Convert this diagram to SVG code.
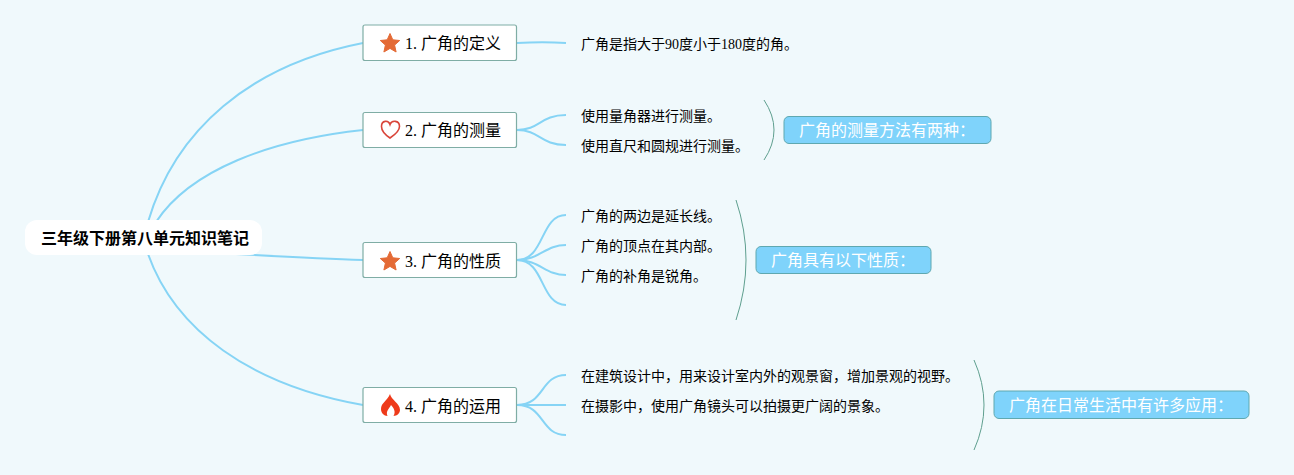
<svg xmlns="http://www.w3.org/2000/svg" width="1294" height="475" viewBox="0 0 1294 475">
<style>
text{font-family:"Liberation Serif","Noto Sans CJK SC",serif;fill:#000}
.c{fill:none;stroke:#86d4f5;stroke-width:2}
.b{fill:none;stroke:#5f9f8f;stroke-width:1}
.t{fill:#fff;stroke:#7fada5;stroke-width:1.2}
.s{fill:#7fd3fb;stroke:#5fa8b0;stroke-width:1}
.l{font-size:14px}
.m{font-size:16px}
.w{font-size:16px;fill:#fff;font-family:"Noto Sans CJK SC",sans-serif}
</style>
<defs>
<path id="star" d="M0-9.500 L2.800-3.200 9.700-2.500 4.600 2.100 6.100 9 0 5.400-6.100 9-4.600 2.100-9.700-2.500-2.800-3.200Z" fill="#e46a35" stroke="#e46a35" stroke-linejoin="round"/>
</defs>
<rect width="1294" height="475" fill="#f0f9fc"/>
<g id="connectors">
<path class="c" d="M148 222C175 130 250 65 363 43"/>
<path class="c" d="M156 222C190 170 270 140 363 130"/>
<path class="c" d="M236 254C290 257 330 259 363 260"/>
<path class="c" d="M148 254C175 330 250 385 363 405"/>
<path class="c" d="M517 43C535 42 550 42 566 43"/>
<path class="c" d="M517 130C540 130 540 115 566 115"/>
<path class="c" d="M517 130C540 130 540 145 566 145"/>
<path class="c" d="M517 260C545 260 540 215 566 215"/>
<path class="c" d="M517 260C540 260 545 245 566 245"/>
<path class="c" d="M517 260C540 260 545 275 566 275"/>
<path class="c" d="M517 260C545 260 540 305 566 305"/>
<path class="c" d="M517 405C545 405 540 375 566 375"/>
<path class="c" d="M517 405H566"/>
<path class="c" d="M517 405C545 405 540 435 566 435"/>
<path class="b" d="M764 100Q784 130 764 160"/>
<path class="b" d="M736 200Q756 260 736 320"/>
<path class="b" d="M974 360Q994 405 974 450"/>
</g>
<g id="root"><rect x="25" y="220" width="237" height="35" rx="12" fill="#fff"/><text x="41" y="244" font-size="16" font-weight="700" style="font-family:'Noto Sans CJK SC',sans-serif">三年级下册第八单元知识笔记</text></g>
<g id="n1"><rect class="t" x="363" y="25" width="153.500" height="35.500" rx="2"/><use href="#star" x="390" y="43"/><text class="m" x="405" y="49">1. 广角的定义</text></g>
<g id="n2"><rect class="t" x="363" y="112.500" width="153.500" height="35" rx="2"/><path d="M390 138C384 134 381.500 131 381.500 126.500C381.500 120 388.500 120 390 124.500C391.500 120 399.500 120 399.500 126.500C399.500 131 396 134 390 138Z" fill="#fff" stroke="#d9453a" stroke-width="1.600"/><text class="m" x="405" y="136">2. 广角的测量</text></g>
<g id="n3"><rect class="t" x="363" y="242.500" width="153.500" height="35" rx="2"/><use href="#star" x="390" y="261"/><text class="m" x="405" y="267">3. 广角的性质</text></g>
<g id="n4"><rect class="t" x="363" y="387.500" width="153.500" height="35" rx="2"/><path d="M390 394C391 400 400 403 400 410C400 413 397 416 393.500 416C396 412 394 408 391 405C389 409 385.500 411 387.500 416C384 416 381 413 381 409C381 403 387 401 390 394Z" fill="#ee3a1a"/><text class="m" x="405" y="412">4. 广角的运用</text></g>
<g id="d1"><text class="l" x="581" y="49">广角是指大于90度小于180度的角。</text></g>
<g id="d2"><text class="l" x="581" y="121">使用量角器进行测量。</text><text class="l" x="581" y="151">使用直尺和圆规进行测量。</text></g>
<g id="d3"><text class="l" x="581" y="221">广角的两边是延长线。</text><text class="l" x="581" y="251">广角的顶点在其内部。</text><text class="l" x="581" y="281">广角的补角是锐角。</text></g>
<g id="d4"><text class="l" x="581" y="381">在建筑设计中，用来设计室内外的观景窗，增加景观的视野。</text><text class="l" x="581" y="411">在摄影中，使用广角镜头可以拍摄更广阔的景象。</text></g>
<g id="s1"><rect class="s" x="784" y="116.500" width="207" height="27" rx="5"/><text class="w" x="799" y="136">广角的测量方法有两种：</text></g>
<g id="s2"><rect class="s" x="756" y="246.500" width="175" height="27" rx="5"/><text class="w" x="771" y="266">广角具有以下性质：</text></g>
<g id="s3"><rect class="s" x="994" y="391" width="255" height="27.500" rx="5"/><text class="w" x="1009" y="411">广角在日常生活中有许多应用：</text></g>
</svg>
